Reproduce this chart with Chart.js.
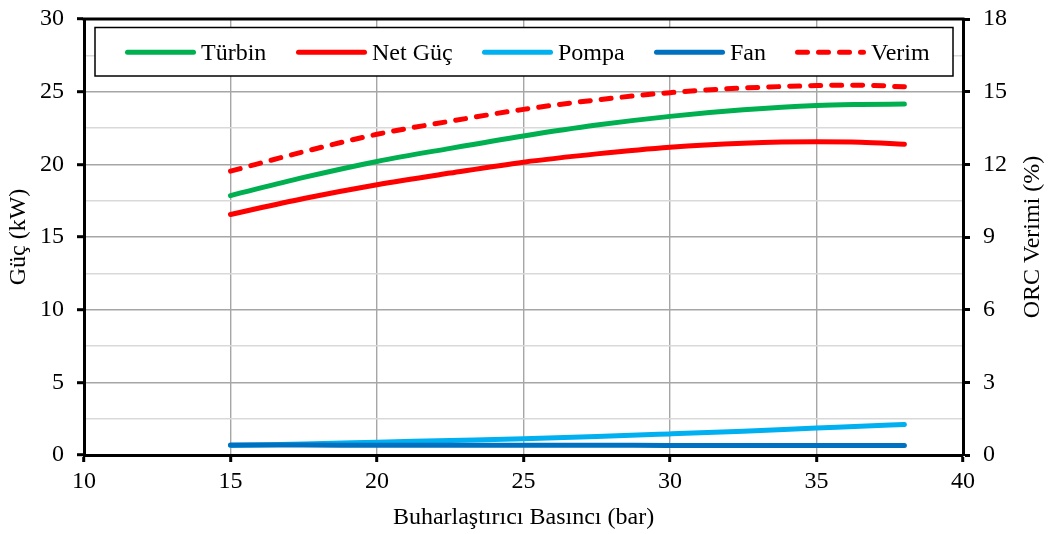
<!DOCTYPE html>
<html>
<head>
<meta charset="utf-8">
<script src="https://cdn.jsdelivr.net/npm/chart.js@4.4.1/dist/chart.umd.min.js"></script>
<style>
  body { margin: 0; background: #fff; }
  #wrap { width: 1050px; height: 534px; position: relative; }
</style>
</head>
<body>
<div id="wrap"><canvas id="orc-chart"></canvas></div>
<script>
// Evaporator pressure (bar)
const pressures = [15, 17.5, 20, 22.5, 25, 27.5, 30, 32.5, 35, 36.5, 38];
// Power (kW)
const turbine = [17.85, 19.1, 20.2, 21.1, 21.95, 22.7, 23.3, 23.75, 24.05, 24.12, 24.15];
const netPower = [16.55, 17.65, 18.6, 19.4, 20.15, 20.72, 21.18, 21.45, 21.55, 21.52, 21.38];
const pump = [0.66, 0.76, 0.88, 1.0, 1.12, 1.27, 1.45, 1.64, 1.85, 1.97, 2.1];
const fan = [0.68, 0.68, 0.67, 0.67, 0.67, 0.67, 0.66, 0.66, 0.66, 0.66, 0.66];
// ORC efficiency (%)
const efficiency = [11.72, 12.52, 13.24, 13.78, 14.27, 14.66, 14.96, 15.15, 15.25, 15.27, 15.2];

const seriesNames = ['Türbin', 'Net Güç', 'Pompa', 'Fan', 'Verim'];
const xTicks = [10, 15, 20, 25, 30, 35, 40];
const powerTicks = [0, 5, 10, 15, 20, 25, 30];
const effTicks = [0, 3, 6, 9, 12, 15, 18];
const effTitle = 'ORC Verimi (%)';

const FONT = "'Liberation Serif', 'Times New Roman', serif";
const toPoints = ys => pressures.map((p, i) => ({ x: p, y: ys[i] }));

function lineSet(label, ys, color, axis, extra) {
    return Object.assign({
        label: label,
        data: toPoints(ys),
        borderColor: color,
        backgroundColor: color,
        borderWidth: 5,
        borderCapStyle: 'round',
        pointRadius: 0,
        cubicInterpolationMode: 'monotone',
        fill: false,
        yAxisID: axis
    }, extra || {});
}

const datasets = [
    lineSet(seriesNames[0], turbine, '#00B050', 'y'),
    lineSet(seriesNames[1], netPower, '#FF0000', 'y'),
    lineSet(seriesNames[2], pump, '#00B0F0', 'y', { order: 1 }),
    lineSet(seriesNames[3], fan, '#0070C0', 'y', { order: 0 }),
    lineSet(seriesNames[4], efficiency, '#FF0000', 'y1', { borderDash: [10, 11] })
];

// boxed legend inside the plot, top frame line and the right axis title
const frameLegend = {
    id: 'frameLegend',
    afterDraw(chart) {
        const ctx = chart.ctx;
        const a = chart.chartArea;
        ctx.save();
        ctx.strokeStyle = '#000';
        ctx.lineWidth = 3;
        ctx.beginPath();
        ctx.moveTo(a.left - 1.5, a.top);
        ctx.lineTo(a.right + 1.5, a.top);
        ctx.stroke();

        // legend box
        ctx.fillStyle = '#fff';
        ctx.fillRect(95, 27.5, 858, 48.5);
        ctx.lineWidth = 1.5;
        ctx.strokeRect(95, 27.5, 858, 48.5);

        const starts = [125, 296, 482, 654, 795];
        const y = 52.3;
        ctx.font = '24px ' + FONT;
        ctx.textBaseline = 'alphabetic';
        ctx.textAlign = 'left';
        chart.data.datasets.forEach((ds, i) => {
            const x0 = starts[i] + 2.5;
            ctx.strokeStyle = ds.borderColor;
            ctx.lineWidth = 5;
            ctx.lineCap = 'round';
            ctx.setLineDash(ds.borderDash || []);
            ctx.beginPath();
            ctx.moveTo(x0, y);
            ctx.lineTo(x0 + 66, y);
            ctx.stroke();
            ctx.setLineDash([]);
            ctx.fillStyle = '#000';
            ctx.fillText(ds.label, starts[i] + 76, 60);
        });

        // right axis title, reading bottom to top
        ctx.translate(1033, (a.top + a.bottom) / 2);
        ctx.rotate(-Math.PI / 2);
        ctx.textAlign = 'center';
        ctx.textBaseline = 'middle';
        ctx.fillText(effTitle, 0, 0);
        ctx.restore();
    }
};

const tickFont = { family: FONT, size: 24 };
const titleFont = { family: FONT, size: 24, lineHeight: 1 };

// fixed axis widths, no extra room for the end labels
function fixWidth(w) {
    return s => { s.width = w; s.paddingTop = 0; s.paddingBottom = 0; };
}

new Chart(document.getElementById('orc-chart'), {
    type: 'line',
    data: { datasets: datasets },
    options: {
        responsive: true,
        maintainAspectRatio: false,
        animation: false,
        layout: { padding: { top: 19, left: 0, right: 0, bottom: 0 } },
        plugins: {
            legend: { display: false },
            tooltip: { enabled: false }
        },
        scales: {
            x: {
                type: 'linear',
                min: xTicks[0],
                max: xTicks[xTicks.length - 1],
                afterBuildTicks: s => { s.ticks = xTicks.map(v => ({ value: v })); },
                afterFit: s => { s.height = 79; s.paddingLeft = 0; s.paddingRight = 0; },
                border: { color: '#000', width: 3 },
                grid: { color: '#a6a6a6', lineWidth: 1.4, tickLength: 7, tickWidth: 3, tickColor: '#000' },
                ticks: { color: '#000', font: tickFont, padding: 5, maxRotation: 0 },
                title: { display: true, text: 'Buharlaştırıcı Basıncı (bar)', color: '#000', font: titleFont, padding: { top: 0, bottom: 4 } }
            },
            y: {
                position: 'left',
                min: 0,
                max: 30,
                ticks: {
                    stepSize: 2.5,
                    color: '#000',
                    font: tickFont,
                    padding: 13,
                    callback: v => powerTicks.includes(v) ? v : ''
                },
                afterFit: fixWidth(84),
                border: { color: '#000', width: 3 },
                grid: {
                    lineWidth: 1.4,
                    tickLength: 7,
                    tickWidth: 3,
                    color: c => c.tick && c.tick.value % 5 === 0 ? '#a6a6a6' : '#d9d9d9',
                    tickColor: c => c.tick && c.tick.value % 5 === 0 ? '#000' : 'rgba(0,0,0,0)'
                },
                title: { display: true, text: 'Güç (kW)', color: '#000', font: titleFont, padding: { top: 7, bottom: 0 } }
            },
            y1: {
                position: 'right',
                min: 0,
                max: 18,
                afterBuildTicks: s => { s.ticks = effTicks.map(v => ({ value: v })); },
                afterFit: fixWidth(87),
                border: { color: '#000', width: 3 },
                grid: { drawOnChartArea: false, tickLength: 7, tickWidth: 3, tickColor: '#000' },
                ticks: { color: '#000', font: tickFont, padding: 13 },
                title: { display: false }
            }
        }
    },
    plugins: [frameLegend]
});
</script>
</body>
</html>
